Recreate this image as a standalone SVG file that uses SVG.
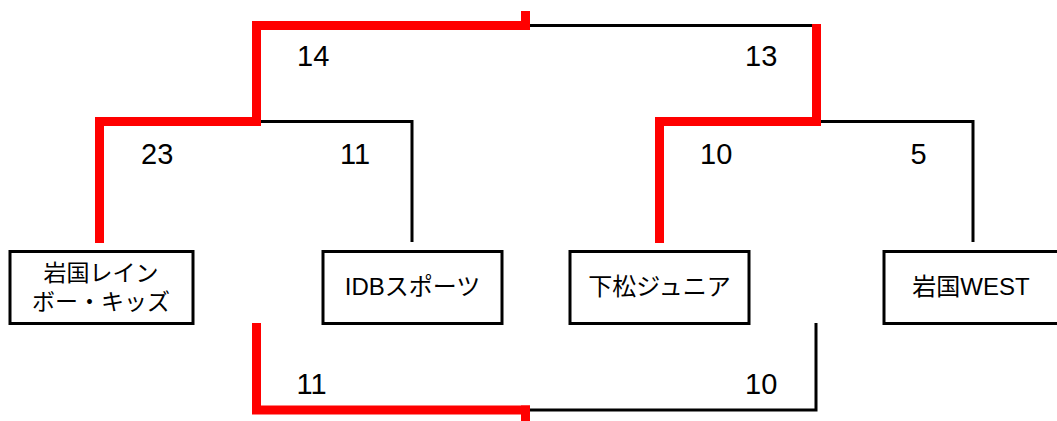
<svg xmlns="http://www.w3.org/2000/svg" width="1057" height="421" viewBox="0 0 1057 421">
<style>
  .bg { fill: #ffffff; }
  .win { fill: none; stroke: #ff0000; stroke-width: 9; stroke-linejoin: miter; stroke-linecap: butt; }
  .lose { fill: none; stroke: #000000; stroke-width: 3; stroke-linejoin: miter; stroke-linecap: butt; }
  .box { fill: #ffffff; stroke: #000000; stroke-width: 3; }
  .name { font-family: "Liberation Sans", "Noto Sans CJK JP", sans-serif; font-size: 24px; fill: #000000; text-anchor: middle; }
  .score { font-family: "Liberation Sans", "Noto Sans CJK JP", sans-serif; font-size: 29px; fill: #000000; }
</style>
<rect class="bg" x="0" y="0" width="1057" height="421"/>
<g id="connectors">
  <path class="lose" d="M530,25.5 H816.5"/>
  <path class="lose" d="M261,121.5 H412 V242"/>
  <path class="lose" d="M821,121.5 H973 V242"/>
  <path class="lose" d="M530,410 H816 V323"/>
  <path class="win" d="M99.5,243 V121.5 H256.5 V25.5 H530"/>
  <path class="win" d="M525.5,11 V30"/>
  <path class="win" d="M659.5,243 V121.5 H816.5 V24"/>
  <path class="win" d="M256.5,323 V410 H530"/>
  <path class="win" d="M525.5,405.5 V421"/>
</g>
<g id="scores">
  <text class="score" x="297" y="66">14</text>
  <text class="score" x="745" y="66">13</text>
  <text class="score" x="141" y="163.5">23</text>
  <text class="score" x="340" y="163.5">11</text>
  <text class="score" x="700" y="163.5">10</text>
  <text class="score" x="910.5" y="163.5">5</text>
  <text class="score" x="296.5" y="393.5">11</text>
  <text class="score" x="745" y="393.5">10</text>
</g>
<g id="team-iwakuni-rainbow-kids">
  <rect class="box" x="10" y="251.5" width="183" height="72"/>
  <text class="name" x="101" y="281" style="font-size:23px">岩国レイン</text>
  <text class="name" x="101" y="310" style="font-size:23px">ボー・キッズ</text>
</g>
<g id="team-idb-sports">
  <rect class="box" x="323" y="251.5" width="179" height="72"/>
  <text class="name" x="412.5" y="295">IDBスポーツ</text>
</g>
<g id="team-kudamatsu-junior">
  <rect class="box" x="570" y="251.5" width="179" height="72"/>
  <text class="name" x="659.5" y="295">下松ジュニア</text>
</g>
<g id="team-iwakuni-west">
  <rect class="box" x="884" y="251.5" width="180" height="72"/>
  <text class="name" x="971" y="295">岩国WEST</text>
</g>
</svg>
